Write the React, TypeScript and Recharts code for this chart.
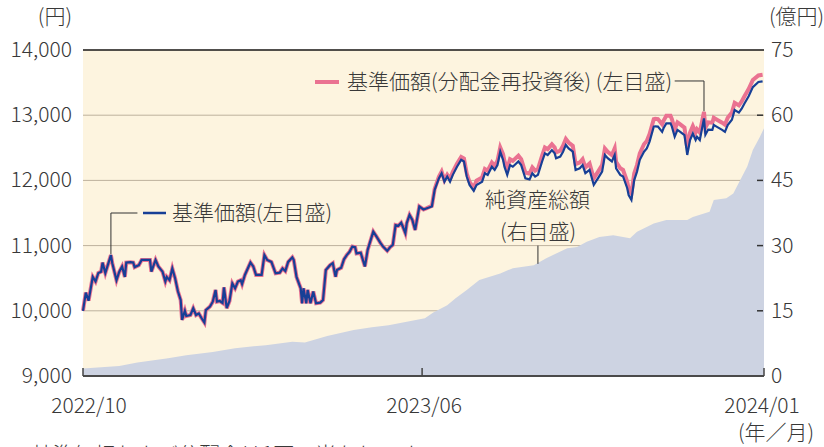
import React from 'react';
import {
  ComposedChart,
  Area,
  Line,
  XAxis,
  YAxis,
  CartesianGrid,
  ReferenceLine,
} from 'recharts';

// days counted from 2022/10/01
const navDays = [
  0, 2, 4, 7, 9, 11, 13, 14, 16, 20, 21, 24, 26, 28, 30, 31, 34, 36, 37, 40, 42, 46, 48, 49, 52, 54, 57, 59, 60, 62,
  64, 66, 68, 70, 71, 73, 74, 77, 79, 81, 83, 85, 87, 88, 91, 93, 95, 96, 98, 100, 101, 103, 105, 107, 109, 111, 113,
  114, 116, 120, 122, 124, 128, 130, 132, 135, 138, 141, 143, 145, 147, 150, 151, 153, 156, 157, 158, 160, 161, 163,
  165, 167, 170, 172, 174, 177, 179, 181, 182, 185, 187, 189, 191, 193, 195, 196, 199, 202, 204, 208, 210, 213, 215,
  218, 220, 222, 224, 226, 228, 229, 231, 232, 234, 236, 238, 241, 244, 246, 250, 252, 255, 257, 259, 261, 263, 265,
  268, 271, 273, 275, 277, 280, 282, 286, 288, 290, 293, 295, 297, 299, 301, 302, 304, 306, 308, 312, 314, 317, 320,
  322, 324, 326, 329, 331, 333, 336, 338, 339, 342, 344, 346, 348, 351, 353, 356, 358, 360, 363, 366, 369, 372, 374,
  376, 379, 381, 382, 385, 387, 390, 391, 393, 395, 397, 399, 402, 404, 406, 409, 410, 412, 415, 416, 418, 421, 422,
  424, 426, 428, 431, 433, 435, 437, 439, 440, 442, 445, 446, 448, 451, 452, 454, 458, 460, 462, 465, 467, 470, 472,
  474, 477, 480, 484, 487,
];

// 基準価額
const nav = [
  10000, 10280, 10155, 10520, 10450, 10580, 10600, 10740, 10580, 10855, 10730, 10470, 10600, 10680, 10520, 10740,
  10745, 10740, 10670, 10700, 10780, 10780, 10780, 10600, 10780, 10680, 10600, 10450, 10520, 10470, 10650, 10500,
  10300, 10165, 9860, 10000, 9920, 9935, 10040, 9935, 9960, 9885, 9820, 10010, 10065, 10140, 10320, 10140, 10150,
  10120, 10360, 10040, 10150, 10420, 10345, 10450, 10470, 10410, 10550, 10740, 10680, 10550, 10550, 10855, 10780,
  10750, 10575, 10585, 10650, 10610, 10750, 10820, 10780, 10520, 10345, 10115, 10345, 10115, 10320, 10115, 10295,
  10115, 10125, 10165, 10625, 10700, 10730, 10520, 10625, 10660, 10790, 10855, 10905, 10985, 10975, 10880, 10890,
  10680, 10935, 11215, 11150, 11045, 10985, 10920, 10975, 11010, 11315, 11305, 11350, 11300, 11190, 11345, 11470,
  11395, 11240, 11600, 11555, 11570, 11600, 11855, 12030, 12110, 11980, 12060, 11980, 12085, 12210, 12315, 12290,
  12060, 11930, 11840, 11930, 11980, 12110, 12085, 12210, 12160, 12235, 12440, 12315, 12210, 12085, 12235, 12210,
  12290, 12235, 12030, 12015, 12110, 12060, 12085, 12290, 12415, 12390, 12465, 12415, 12340, 12365, 12440, 12545,
  12490, 12440, 12160, 12185, 12235, 12110, 12160, 11930, 12030, 12135, 12390, 12340, 12290, 12390, 12185, 12085,
  12060, 11880, 11775, 11700, 12005, 12135, 12315, 12440, 12490, 12595, 12825, 12830, 12825, 12745, 12800, 12875,
  12875, 12825, 12670, 12775, 12745, 12695, 12390, 12620, 12720, 12620, 12670, 12620, 12950, 12700, 12780, 12775,
  12850, 12825, 12775, 12745, 12850, 12930, 13080, 13040, 13100, 13180, 13290, 13430, 13510, 13520,
];

// 基準価額(分配金再投資後)
const navReinvested = [
  10000, 10280, 10155, 10520, 10450, 10580, 10600, 10740, 10580, 10855, 10730, 10470, 10600, 10680, 10520, 10740,
  10745, 10740, 10670, 10700, 10780, 10780, 10780, 10600, 10780, 10680, 10600, 10450, 10520, 10470, 10650, 10500,
  10300, 10165, 9860, 10000, 9920, 9935, 10040, 9935, 9960, 9885, 9820, 10010, 10065, 10140, 10320, 10140, 10150,
  10120, 10360, 10040, 10150, 10420, 10345, 10450, 10470, 10410, 10550, 10740, 10680, 10550, 10550, 10855, 10780,
  10750, 10575, 10585, 10650, 10610, 10750, 10820, 10780, 10520, 10345, 10115, 10345, 10115, 10320, 10115, 10295,
  10115, 10125, 10165, 10625, 10700, 10730, 10520, 10625, 10660, 10790, 10855, 10905, 10985, 10975, 10880, 10890,
  10680, 10935, 11215, 11150, 11045, 10985, 10920, 10975, 11010, 11315, 11305, 11350, 11300, 11190, 11345, 11470,
  11395, 11240, 11600, 11555, 11570, 11610, 11870, 12055, 12135, 12005, 12085, 12025, 12130, 12255, 12360, 12335,
  12105, 11975, 11885, 11995, 12045, 12175, 12150, 12275, 12225, 12300, 12505, 12405, 12300, 12175, 12325, 12300,
  12380, 12325, 12120, 12105, 12200, 12150, 12175, 12380, 12505, 12480, 12555, 12505, 12430, 12455, 12530, 12635,
  12580, 12530, 12250, 12275, 12325, 12200, 12260, 12030, 12130, 12235, 12490, 12440, 12390, 12490, 12285, 12185,
  12160, 11980, 11875, 11800, 12105, 12235, 12415, 12555, 12605, 12710, 12940, 12945, 12940, 12860, 12915, 12990,
  12990, 12940, 12785, 12890, 12860, 12810, 12505, 12735, 12835, 12735, 12785, 12735, 13050, 12810, 12890, 12885,
  12960, 12935, 12885, 12855, 12960, 13040, 13190, 13150, 13210, 13290, 13400, 13540, 13610, 13620,
];

// 純資産総額(億円)
const assetDays = [
  0, 26, 39, 61, 74, 93, 109, 131, 150, 159, 175, 194, 207, 219, 232, 245, 251, 261, 267, 275, 284, 299, 308, 323,
  332, 347, 354, 361, 370, 380, 392, 397, 409, 418, 433, 437, 449, 452, 461, 466, 471, 476, 480, 485, 488,
];
const netAssets = [
  1.7, 2.3, 3.1, 4.1, 4.8, 5.5, 6.4, 7.1, 7.9, 7.7, 9.2, 10.6, 11.2, 11.7, 12.5, 13.3, 14.6, 16.3, 17.9, 19.8, 22.1,
  23.6, 24.8, 25.5, 27.1, 29.4, 29.7, 30.9, 32.0, 32.4, 31.7, 33.2, 35.1, 35.9, 35.9, 36.6, 37.8, 40.5, 40.9, 42.0,
  45.1, 48.2, 52.0, 55.0, 57.0,
];

const tickDays = [0, 243, 488];
const tickLabels = ['2022/10', '2023/06', '2024/01'];
const leftTicks = [9000, 10000, 11000, 12000, 13000, 14000];
const rightTicks = [0, 15, 30, 45, 60, 75];

const FONT = "'Noto Sans CJK JP', 'Noto Sans', sans-serif";
const WEIGHT = 300;
const TEXT = '#383838';
const BLUE = '#173f96';
const PINK = '#ea7291';

const rows = [
  ...navDays.map((d, i) => ({ d, nav: nav[i], navR: navReinvested[i] })),
  ...assetDays.map((d, i) => ({ d, assets: netAssets[i] })),
].sort((a, b) => a.d - b.d);

const LeftTick = ({ x, y, payload }: any) => (
  <text x={x} y={y + 7} textAnchor="end" fontSize={21} fontFamily={FONT} fontWeight={WEIGHT} fill={TEXT}>
    {payload.value.toLocaleString('en-US')}
  </text>
);

const RightTick = ({ x, y, payload }: any) => (
  <g>
    {payload.value > 0 && payload.value < 75 && (
      <line x1={x - 14} x2={x - 8} y1={y} y2={y} stroke="#333" strokeWidth={1.5} />
    )}
    <text x={x} y={y + 7} textAnchor="start" fontSize={21} fontFamily={FONT} fontWeight={WEIGHT} fill={TEXT}>
      {payload.value}
    </text>
  </g>
);

const BottomTick = ({ x, y, payload, index }: any) => {
  const shift = index === 0 ? 6 : index === tickDays.length - 1 ? -2 : 2;
  return (
    <g>
      <line x1={x} x2={x} y1={y - 8} y2={y} stroke="#444" strokeWidth={1.5} />
      <text
        x={x + shift}
        y={y + 37}
        textAnchor="middle"
        fontSize={21}
        fontFamily={FONT}
        fontWeight={WEIGHT}
        fill={TEXT}
      >
        {tickLabels[tickDays.indexOf(payload.value)]}
      </text>
    </g>
  );
};

export default function App() {
  return (
    <div style={{ position: 'absolute', left: 0, top: 0, width: 824, height: 447, background: '#fff', fontFamily: FONT }}>
      <ComposedChart width={824} height={447} data={rows} margin={{ top: 50, right: 0, bottom: 31, left: 0 }}>
        <CartesianGrid
          yAxisId="left"
          vertical={false}
          fill="#fdf4df"
          fillOpacity={1}
          stroke="#bdb19d"
          strokeWidth={1}
        />
        <XAxis
          type="number"
          dataKey="d"
          domain={[0, 488]}
          ticks={tickDays}
          height={40}
          tickSize={0}
          tickMargin={0}
          tickLine={false}
          axisLine={{ stroke: '#4a4a4a', strokeWidth: 2 }}
          tick={<BottomTick />}
          interval={0}
        />
        <YAxis
          yAxisId="left"
          domain={[9000, 14000]}
          ticks={leftTicks}
          width={83}
          tickSize={0}
          tickMargin={11}
          axisLine={false}
          tickLine={false}
          tick={<LeftTick />}
          interval={0}
        />
        <YAxis
          yAxisId="right"
          orientation="right"
          domain={[0, 75]}
          ticks={rightTicks}
          width={60}
          tickSize={0}
          tickMargin={7}
          axisLine={false}
          tickLine={false}
          tick={<RightTick />}
          interval={0}
        />
        <Area
          yAxisId="right"
          dataKey="assets"
          type="linear"
          fill="#cdd3e2"
          fillOpacity={1}
          stroke="none"
          connectNulls
          isAnimationActive={false}
        />
        <Line
          yAxisId="left"
          dataKey="navR"
          type="linear"
          stroke={PINK}
          strokeWidth={4}
          dot={false}
          connectNulls
          isAnimationActive={false}
        />
        <Line
          yAxisId="left"
          dataKey="nav"
          type="linear"
          stroke={BLUE}
          strokeWidth={2.2}
          dot={false}
          connectNulls
          isAnimationActive={false}
        />
        <ReferenceLine yAxisId="left" y={14000} stroke="#222" strokeWidth={1.5} />
        {/* leader lines */}
        <ReferenceLine yAxisId="left" segment={[{ x: 20, y: 10870 }, { x: 20, y: 11500 }]} stroke="#333" />
        <ReferenceLine yAxisId="left" segment={[{ x: 20, y: 11500 }, { x: 39, y: 11500 }]} stroke="#333" />
        <ReferenceLine yAxisId="left" segment={[{ x: 424, y: 13525 }, { x: 445, y: 13525 }]} stroke="#333" />
        <ReferenceLine yAxisId="left" segment={[{ x: 445, y: 13525 }, { x: 445, y: 13060 }]} stroke="#333" />
        <ReferenceLine yAxisId="right" segment={[{ x: 326, y: 30 }, { x: 326, y: 25.8 }]} stroke="#333" />
      </ComposedChart>
      <svg
        width={824}
        height={447}
        style={{ position: 'absolute', left: 0, top: 0, pointerEvents: 'none' }}
        fontFamily={FONT}
        fontWeight={WEIGHT}
        fontSize={21}
        fill={TEXT}
      >
        <text x={72} y={24} textAnchor="end">(円)</text>
        <text x={769} y={24}>(億円)</text>
        <text x={776} y={440} textAnchor="middle">(年／月)</text>
        <text x={31} y={462}>基準価額および分配金は1万口当たりです。</text>

        <line x1={143} x2={166} y1={213} y2={213} stroke={BLUE} strokeWidth={2.5} />
        <text x={172} y={220}>基準価額(左目盛)</text>

        <line x1={315} x2={339} y1={82} y2={82} stroke={PINK} strokeWidth={4} />
        <text x={347} y={89}>基準価額(分配金再投資後) (左目盛)</text>

        <text x={485} y={207}>純資産総額</text>
        <text x={500} y={239}>(右目盛)</text>
      </svg>
    </div>
  );
}
